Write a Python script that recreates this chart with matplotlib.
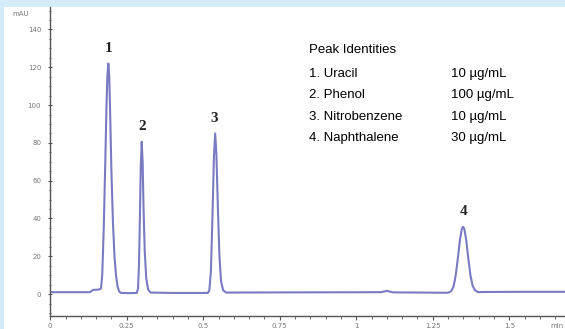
import matplotlib
matplotlib.use('Agg')
import matplotlib.pyplot as plt
from matplotlib.patches import Rectangle
from matplotlib.ticker import MultipleLocator

# chromatogram trace (time in min, signal in mAU)
time_min = [0.000, 0.130, 0.140, 0.160, 0.166, 0.170, 0.175, 0.180, 0.184, 0.187, 0.190,
            0.193, 0.196, 0.200, 0.205, 0.210, 0.215, 0.220, 0.226, 0.232,
            0.260, 0.283, 0.287, 0.290, 0.293, 0.296, 0.299, 0.302, 0.305, 0.309,
            0.314, 0.320, 0.328, 0.400, 0.515, 0.520, 0.525, 0.530, 0.535, 0.539,
            0.543, 0.548, 0.553, 0.558, 0.565, 0.575, 0.800, 1.080, 1.100, 1.120,
            1.300, 1.310, 1.318, 1.325, 1.332, 1.339, 1.345, 1.349, 1.353, 1.359,
            1.366, 1.373, 1.380, 1.388, 1.398, 1.410, 1.550, 1.690]
signal_mau = [1.0, 1.0, 2.2, 2.4, 3.0, 10, 35, 70, 100, 116, 122,
              115, 95, 65, 38, 20, 10, 4, 1.2, 0.6,
              0.5, 0.6, 3, 15, 40, 68, 80.6, 70, 45, 22,
              8, 2.5, 0.8, 0.6, 0.6, 2, 12, 40, 73, 85,
              74, 45, 20, 7, 2, 0.8, 0.9, 1.0, 1.7, 0.9,
              0.7, 1.5, 4, 10, 19, 29, 34.5, 35.6, 34.5, 29,
              19, 10, 4.5, 2, 1.0, 1.1, 1.2, 1.2]

peak_ids = ['1', '2', '3', '4']
peak_t = [0.192, 0.300, 0.537, 1.349]
peak_h = [122, 80.6, 85, 35.6]

compounds = ['1. Uracil', '2. Phenol', '3. Nitrobenzene', '4. Naphthalene']
concs = ['10 µg/mL', '100 µg/mL', '10 µg/mL', '30 µg/mL']

W, H = 565, 329
fig = plt.figure(figsize=(W / 100, H / 100), dpi=100)
fig.patch.set_facecolor('#d4ebf8')
fig.patches.append(Rectangle((4 / W, 0), 1, 1 - 7 / H, transform=fig.transFigure,
                             facecolor='white', edgecolor='none', zorder=-10))

ax = fig.add_axes([50.2 / W, 13 / H, (W - 50.2) / W, (316 - 7) / H])
ax.set_facecolor('none')
ax.plot(time_min, signal_mau, color='#7a7ac2', lw=1.5)

ax.set_xlim(0, 1.682)
ax.set_ylim(-11.6, 151.9)
for s in ['top', 'right']:
    ax.spines[s].set_visible(False)
for s in ['left', 'bottom']:
    ax.spines[s].set_color('#555555')
    ax.spines[s].set_linewidth(1.0)

ax.set_xticks([0, 0.25, 0.5, 0.75, 1, 1.25, 1.5])
ax.set_xticklabels(['0', '0.25', '0.5', '0.75', '1', '1.25', '1.5'])
ax.set_yticks([0, 20, 40, 60, 80, 100, 120, 140])
ax.xaxis.set_minor_locator(MultipleLocator(0.05))
ax.yaxis.set_minor_locator(MultipleLocator(5))
ax.tick_params(which='major', length=3, width=0.8, color='#555555',
               labelsize=5, labelcolor='#777777', pad=2)
ax.tick_params(which='minor', length=2, width=0.6, color='#555555')
ax.tick_params(axis='y', which='both', direction='inout', pad=5)

fig.text(12 / W, 1 - 14 / H, 'mAU', fontsize=5, color='#777777', va='center')
fig.text(557 / W, 1 - 326 / H, 'min', fontsize=5, color='#777777', va='center', ha='center')

for lab, t, h in zip(peak_ids, peak_t, peak_h):
    ax.annotate(lab, (t, h), xytext=(0, 6), textcoords='offset points',
                ha='center', va='bottom', fontsize=11, fontweight='bold',
                family='Liberation Serif', color='#222222')

fig.text(309 / W, 1 - 50 / H, 'Peak Identities', fontsize=9.5,
         family='Liberation Sans', va='center')
for i, (c, v) in enumerate(zip(compounds, concs)):
    y = 1 - (74 + i * 21.3) / H
    fig.text(309 / W, y, c, fontsize=9.5, family='Liberation Sans', va='center')
    fig.text(451 / W, y, v, fontsize=9.5, family='Liberation Sans', va='center')

fig.savefig('out.png', dpi=100)
